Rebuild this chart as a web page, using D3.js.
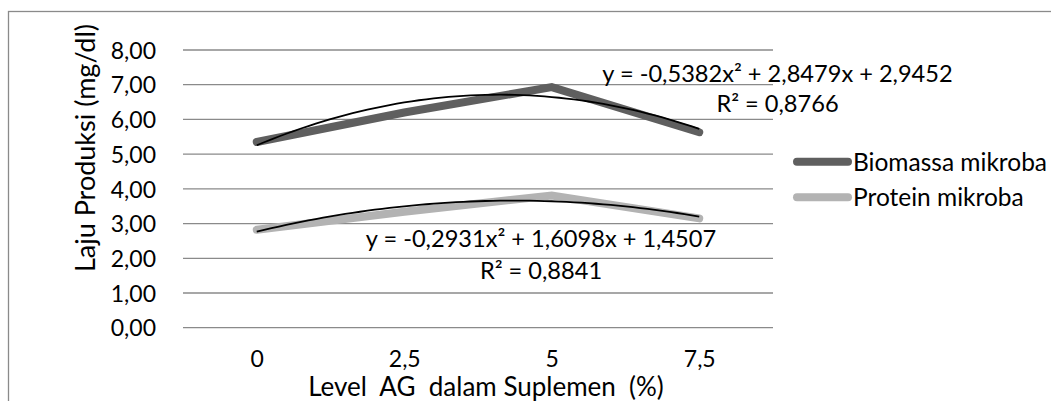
<!DOCTYPE html>
<html><head><meta charset="utf-8">
<script src="https://cdn.jsdelivr.net/npm/d3@7/dist/d3.min.js"></script>
<style>
body{margin:0;background:#fff}
svg{display:block}
text{font-family:Lato, sans-serif; font-size:23px; fill:#000}
</style>
</head><body>
<svg id="c" width="1051" height="401"></svg>
<script>
const categories = ["0", "2,5", "5", "7,5"];
const biomassa = [5.35, 6.20, 6.93, 5.63];
const protein = [2.82, 3.34, 3.81, 3.15];
const yTicks = [0, 1, 2, 3, 4, 5, 6, 7, 8];
const seriesNames = ["Biomassa mikroba", "Protein mikroba"];
const trendBiomassa = [-0.5382, 2.8479, 2.9452];
const trendProtein = [-0.2931, 1.6098, 1.4507];
const eqBiomassa = ["y = -0,5382x² + 2,8479x + 2,9452", "R² = 0,8766"];
const eqProtein = ["y = -0,2931x² + 1,6098x + 1,4507", "R² = 0,8841"];
const yTitle = "Laju Produksi (mg/dl)";
const xTitle = "Level  AG  dalam Suplemen  (%)";

const svg = d3.select("#c");
const W = 1051, H = 401;
const plot = {left: 183, right: 773, top: 50, bottom: 327.7};
const gridColor = "#8a8a8a";
const colors = ["#5f5f5f", "#b3b3b3"];

// outer frame
svg.append("rect").attr("x", 8.5).attr("y", 11.5).attr("width", W + 20).attr("height", H + 20)
  .attr("fill", "#fff").attr("stroke", gridColor).attr("stroke-width", 1.3);

const x = d3.scalePoint().domain(categories).range([plot.left, plot.right]).padding(0.5);
const y = d3.scaleLinear().domain([0, 8]).range([plot.bottom, plot.top]);
const fmt = v => d3.format(".2f")(v).replace(".", ",");

// grid
svg.append("g").selectAll("line").data(yTicks).join("line")
  .attr("x1", plot.left).attr("x2", plot.right)
  .attr("y1", d => y(d)).attr("y2", d => y(d))
  .attr("stroke", gridColor).attr("stroke-width", 1.3);

// y axis labels
const gy = svg.append("g").attr("transform", `translate(${plot.left},0)`)
  .call(d3.axisLeft(y).tickValues(yTicks).tickSize(0).tickPadding(27).tickFormat(fmt));
gy.select(".domain").remove();
gy.selectAll("text").attr("font-family", "Lato, sans-serif").attr("font-size", 23).attr("fill", "#000")
  .attr("dy", "0.36em");

// x axis labels
const gx = svg.append("g").attr("transform", `translate(0,${plot.bottom})`)
  .call(d3.axisBottom(x).tickSize(0).tickPadding(27));
gx.select(".domain").remove();
gx.selectAll("text").attr("font-family", "Lato, sans-serif").attr("font-size", 23).attr("fill", "#000")
  .attr("dy", "0.36em").attr("y", 31);

// axis titles
svg.append("text").attr("transform", "translate(95,148) rotate(-90)")
  .attr("text-anchor", "middle").style("font-size", "27px").text(yTitle);
svg.append("text").attr("x", 486).attr("y", 395.5)
  .attr("text-anchor", "middle").style("font-size", "26px").style("white-space", "pre").text(xTitle);

// series
const line = d3.line().x((d, i) => x(categories[i])).y(d => y(d));
[biomassa, protein].forEach((s, k) => {
  svg.append("path").datum(s).attr("d", line).attr("fill", "none")
    .attr("stroke", colors[k]).attr("stroke-width", 8)
    .attr("stroke-linecap", "round").attr("stroke-linejoin", "miter");
});

// trendlines (polynomial order 2, x = category index 1..4)
const step = x.step();
const x0 = x(categories[0]);
[trendBiomassa, trendProtein].forEach(c => {
  const pts = d3.range(0, 61).map(j => 1 + j * 3 / 60);
  const tl = d3.line().x(t => x0 + (t - 1) * step).y(t => y(c[0] * t * t + c[1] * t + c[2]));
  svg.append("path").datum(pts).attr("d", tl).attr("fill", "none")
    .attr("stroke", "#000").attr("stroke-width", 1.8);
});

// equation labels
function eq(lines, cx, cy1, cy2) {
  svg.append("text").attr("x", cx).attr("y", cy1).attr("text-anchor", "middle").attr("dy", "0.36em")
    .style("font-size", "23.6px").text(lines[0]);
  svg.append("text").attr("x", cx).attr("y", cy2).attr("text-anchor", "middle").attr("dy", "0.36em")
    .style("font-size", "23.6px").text(lines[1]);
}
eq(eqBiomassa, 777.5, 74, 104);
eq(eqProtein, 541, 239, 271);

// legend
const leg = svg.append("g");
seriesNames.forEach((n, k) => {
  const ly = [161.7, 197.3][k];
  leg.append("line").attr("x1", 797).attr("x2", 848).attr("y1", ly).attr("y2", ly)
    .attr("stroke", colors[k]).attr("stroke-width", 8).attr("stroke-linecap", "round");
  leg.append("text").attr("x", 853).attr("y", ly).attr("dy", "0.36em").style("font-size", "24.5px").text(n);
});
</script>
</body></html>
